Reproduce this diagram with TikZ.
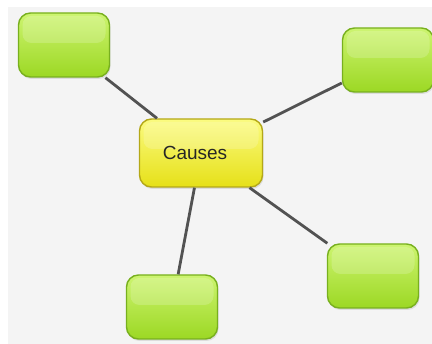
\documentclass[tikz,border=0pt]{standalone}
\usepackage{fontspec}
\setsansfont{Liberation Sans}
\usetikzlibrary{shadows}

\definecolor{limetop}{HTML}{CDF470}
\definecolor{limebot}{HTML}{9CD824}
\definecolor{limeline}{HTML}{78B01E}
\definecolor{yeltop}{HTML}{FBFB80}
\definecolor{yelbot}{HTML}{E6E018}
\definecolor{yelline}{HTML}{B4A818}
\definecolor{paper}{HTML}{F4F4F4}

\begin{document}
\begin{tikzpicture}[x=1pt,y=-1pt,
  glossy/.style={path picture={\fill[white,opacity=0.18,rounded corners=9pt]
      ([xshift=4pt,yshift=-3pt]path picture bounding box.north west) rectangle
      ([xshift=-4pt,yshift=-30pt]path picture bounding box.north east);}},
  main node/.style={rectangle,rounded corners=12pt,line width=1.4pt,glossy,
    drop shadow={opacity=0.2,shadow xshift=1pt,shadow yshift=-2pt},
    font=\sffamily\fontsize{19}{22}\selectfont,text=black!85},
  leaf node/.style={main node,draw=limeline,top color=limetop,bottom color=limebot,
    minimum width=91pt,minimum height=64pt},
  link/.style={draw=black!68,line width=2.8pt}]

  % page
  \useasboundingbox (0,0) rectangle (432,344);
  \fill[white] (0,0) rectangle (432,344);
  \fill[paper] (8,7) rectangle (432,344);

  % nodes
  \node[main node,draw=yelline,top color=yeltop,bottom color=yelbot,
    minimum width=123pt,minimum height=68pt] (causes) at (201,153)
    {\hspace*{-12pt}Causes};
  \node[leaf node] (nw) at (64,45) {};
  \node[leaf node] (ne) at (388,60) {};
  \node[leaf node] (se) at (373,276) {};
  \node[leaf node] (s) at (172,307) {};

  % links
  \path[link]
    (causes) edge (nw)
             edge (ne)
             edge (se)
             edge (s);
\end{tikzpicture}
\end{document}
